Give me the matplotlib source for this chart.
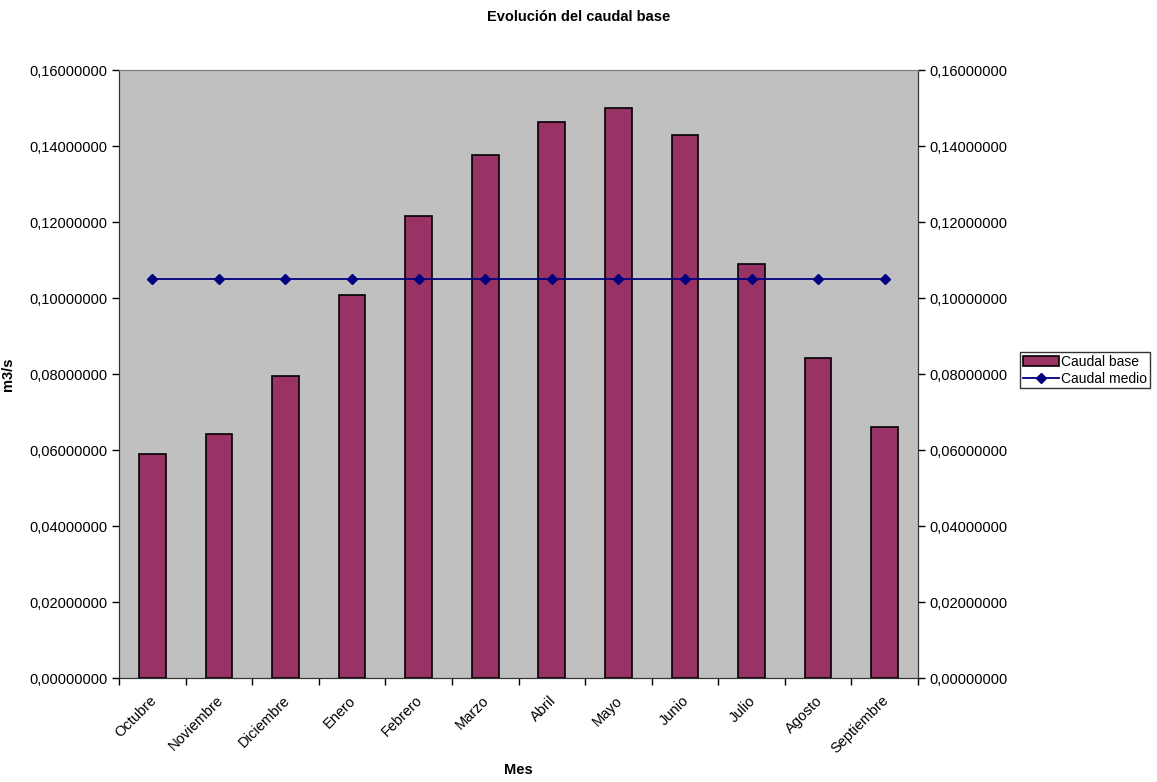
import numpy as np
import matplotlib
matplotlib.use('Agg')
import matplotlib.pyplot as plt
import matplotlib.transforms as mtransforms
from matplotlib.ticker import FuncFormatter, MultipleLocator

plt.rcParams['font.family'] = ['Liberation Sans', 'DejaVu Sans']

# --- Data ---
meses = ['Octubre', 'Noviembre', 'Diciembre', 'Enero', 'Febrero', 'Marzo',
         'Abril', 'Mayo', 'Junio', 'Julio', 'Agosto', 'Septiembre']
caudal_base = [0.0589, 0.0642, 0.0795, 0.1008, 0.1216, 0.1376,
               0.1463, 0.1501, 0.1429, 0.1089, 0.0843, 0.0660]
caudal_medio = [0.1051] * 12

BAR_COLOR = '#993366'
LINE_COLOR = '#000080'
BG_COLOR = '#C0C0C0'


def fmt(v, pos):
    return f"{v:.8f}".replace('.', ',')


fig = plt.figure(figsize=(11.57, 7.82), dpi=100)
ax = fig.add_axes([119 / 1157, 1 - 678 / 782, (918 - 119) / 1157, (678 - 70) / 782])
ax.set_facecolor(BG_COLOR)

x = np.arange(len(meses))
ax.bar(x, caudal_base, width=0.4, color=BAR_COLOR, edgecolor='black',
       linewidth=1.2, label='Caudal base', zorder=2)

ax2 = ax.twinx()
ax2.plot(x, caudal_medio, color=LINE_COLOR, marker='D', markersize=5,
         linewidth=1.3, label='Caudal medio', zorder=3)

for a in (ax, ax2):
    a.set_ylim(0, 0.16)
    a.set_xlim(-0.5, len(meses) - 0.5)
    a.yaxis.set_major_locator(MultipleLocator(0.02))
    a.yaxis.set_major_formatter(FuncFormatter(fmt))
    a.tick_params(axis='y', labelsize=10.5, length=5, width=1, colors='black')
    a.spines['top'].set_color('#808080')
    a.spines['left'].set_color('#333333')
    a.spines['right'].set_color('#333333')
    a.spines['bottom'].set_color('#333333')

ax.set_xticks(np.arange(len(meses) + 1) - 0.5, minor=False)
ax.set_xticklabels([])
ax.tick_params(axis='x', length=5, width=1)
ax.set_xticks(x, minor=True)
ax.set_xticklabels(meses, minor=True, rotation=45, ha='right',
                   rotation_mode='anchor', fontsize=10.5)
ax.tick_params(axis='x', which='minor', length=0, pad=11)
shift = mtransforms.ScaledTranslation(-3 / 100, 0, fig.dpi_scale_trans)
for lbl in ax.get_xticklabels(minor=True):
    lbl.set_transform(lbl.get_transform() + shift)

ax.set_ylabel('m3/s', fontsize=10.5, fontweight='bold')
ax.yaxis.set_label_coords((15 - 119) / 799, 0.5)
ax.set_xlabel('Mes', fontsize=10.5, fontweight='bold')
ax.xaxis.set_label_coords(0.5, -0.14)

fig.text(0.5, 1 - 17 / 782, 'Evolución del caudal base', ha='center',
         va='center', fontsize=10.5, fontweight='bold')

h1, l1 = ax.get_legend_handles_labels()
h2, l2 = ax2.get_legend_handles_labels()
leg = fig.legend(h1 + h2, l1 + l2, loc='upper left',
                 bbox_to_anchor=(1020 / 1157, 1 - 352 / 782), fontsize=10,
                 frameon=True, fancybox=False, edgecolor='black',
                 borderpad=0.2, labelspacing=0.2, handlelength=2.6,
                 handletextpad=0.15, borderaxespad=0)
leg.get_frame().set_linewidth(1)

fig.savefig('out.png', dpi=100)
